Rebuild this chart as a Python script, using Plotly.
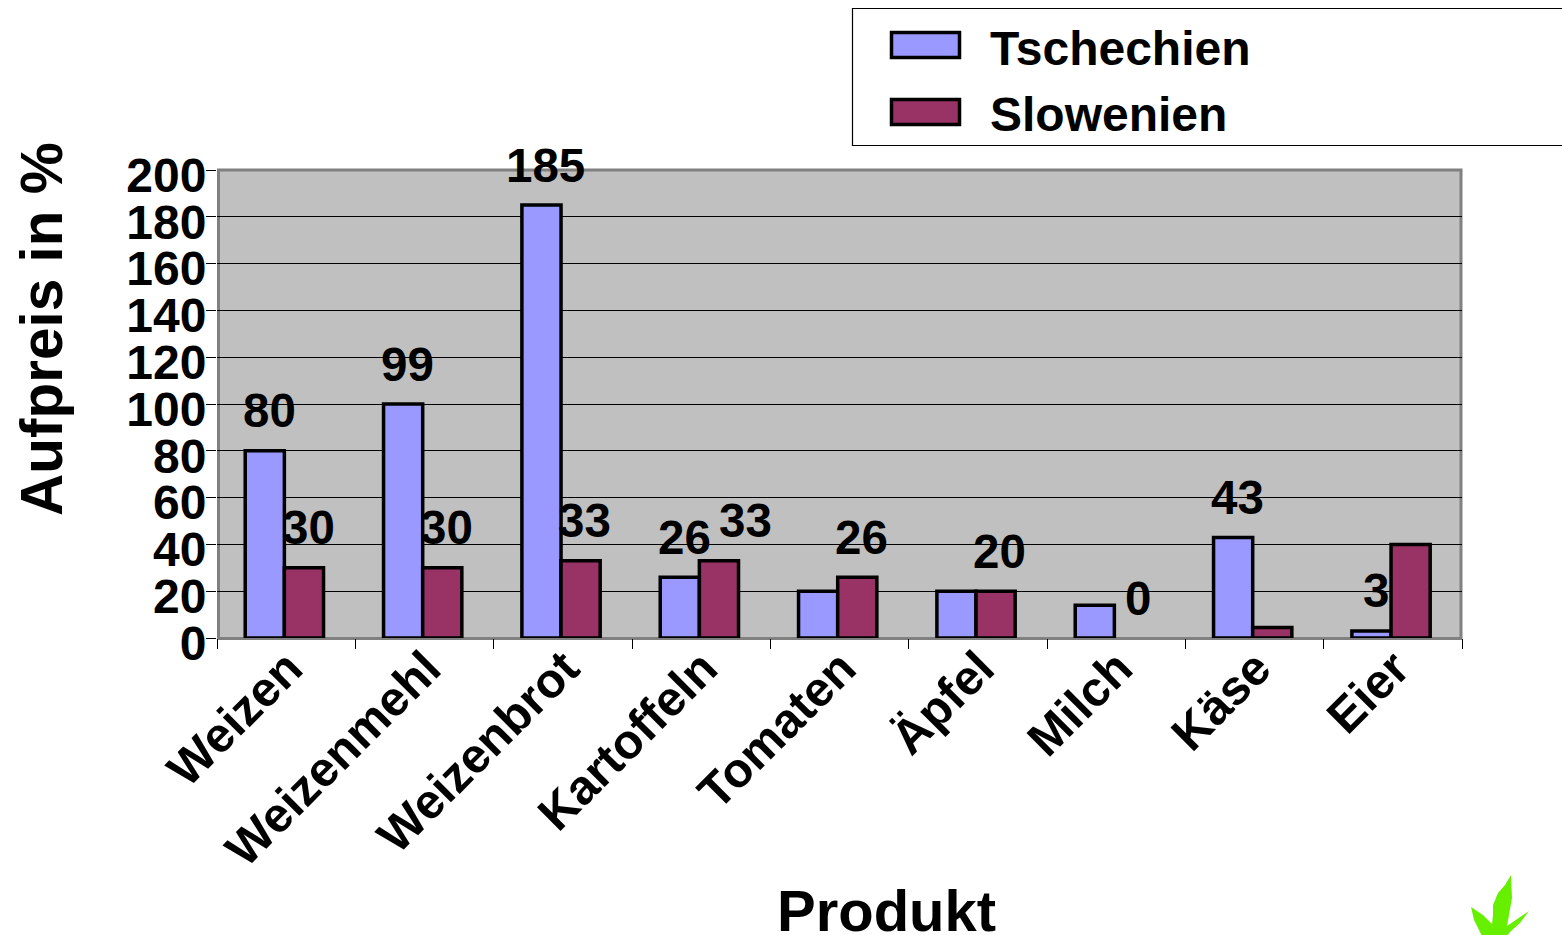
import plotly.graph_objects as go

categories = ["Weizen", "Weizenmehl", "Weizenbrot", "Kartoffeln", "Tomaten", "Äpfel", "Milch", "Käse", "Eier"]
tschechien = [80, 100, 185, 26, 20, 20, 14, 43, 3]
slowenien = [30, 30, 33, 33, 26, 20, 0, 4.5, 40]
tschechien_labels = ["80", "99", "185", "26", "", "", "", "43", "3"]
slowenien_labels = ["30", "30", "33", "33", "26", "20", "0", "", ""]
series_names = ["Tschechien", "Slowenien"]
y_ticks = list(range(0, 201, 20))
x_title = "Produkt"
y_title = "Aufpreis in %"

W, H = 1562, 935
L, R, T, B = 217, 1462, 170, 638
FONT = "Liberation Sans"
BLUE, PLUM = "#9999FF", "#993366"
BAR_W = 0.283


def px(x):
    return (x - L) / (R - L)


def py(y):
    return (B - y) / (B - T)


fig = go.Figure()
for name, vals, col, off in [(series_names[0], tschechien, BLUE, -BAR_W - 0.013),
                             (series_names[1], slowenien, PLUM, -0.013)]:
    fig.add_bar(x=categories, y=vals, name=name, width=BAR_W, offset=off,
                marker=dict(color=col, line=dict(color="black", width=[3.5 if v else 0 for v in vals])),
                showlegend=False, cliponaxis=False)

annotations = []
for name, vals, labels, shift in [(series_names[0], tschechien, tschechien_labels, -17),
                                  (series_names[1], slowenien, slowenien_labels, 22)]:
    for c, v, t in zip(categories, vals, labels):
        if t:
            nudge = 22 if (c, name) == ("Kartoffeln", "Slowenien") else 0
            annotations.append(dict(x=c, y=v, text=f"<b>{t}</b>", xshift=shift + nudge, yshift=40, yanchor="middle",
                                    showarrow=False, font=dict(family=FONT, size=47.5, color="black")))

# Axis titles
annotations.append(dict(xref="paper", yref="paper", x=px(886), y=py(910), xanchor="center", yanchor="middle",
                        text=f"<b>{x_title}</b>", showarrow=False, font=dict(family=FONT, size=58, color="black")))
annotations.append(dict(xref="paper", yref="paper", x=px(41), y=py(329), xanchor="center", yanchor="middle", textangle=-90,
                        text=f"<b>{y_title}</b>", showarrow=False, font=dict(family=FONT, size=58.5, color="black")))

# Plot frame, sitting just inside the plot area, underneath the bars
shapes = [dict(type="rect", xref="paper", yref="paper", x0=px(218.5), x1=px(1461), y0=py(638.5), y1=py(170),
               line=dict(color="#808080", width=3), fillcolor="rgba(0,0,0,0)", layer="below")]

# Legend box, swatches and text
shapes.append(dict(type="rect", xref="paper", yref="paper", x0=px(852.5), x1=px(1575), y0=py(8.5), y1=py(145.5),
                   line=dict(color="black", width=1.2), fillcolor="white", layer="above"))
for name, col, yc in [(series_names[0], BLUE, 45), (series_names[1], PLUM, 112)]:
    shapes.append(dict(type="rect", xref="paper", yref="paper", x0=px(891.5), x1=px(959.5), y0=py(yc + 12.5), y1=py(yc - 12.5),
                       line=dict(color="black", width=3.5), fillcolor=col, layer="above"))
    annotations.append(dict(xref="paper", yref="paper", x=px(988), y=py(yc + 3), xanchor="left", yanchor="middle",
                            text=f"<b>{name}</b>", showarrow=False, font=dict(family=FONT, size=48, color="black")))

# Small green leaf logo, bottom right
leaf = [(1511, 875), (1512, 898), (1509, 915), (1507, 926), (1529, 911), (1520, 923), (1510, 932), (1507, 936), (1482, 936),
        (1474, 920), (1471, 907), (1483, 915), (1492, 924), (1493, 915), (1493, 905), (1498, 893), (1505, 885)]
path = "M" + " L".join(f"{px(a):.5f},{py(b):.5f}" for a, b in leaf) + " Z"
shapes.append(dict(type="path", xref="paper", yref="paper", path=path, fillcolor="#66F000", line=dict(width=0), layer="above"))

fig.update_layout(
    width=W, height=H, autosize=False,
    margin=dict(l=L, r=W - R, t=T, b=H - B, pad=0),
    paper_bgcolor="white", plot_bgcolor="#C0C0C0",
    font=dict(family=FONT, size=47, color="black"),
    barmode="overlay",
    showlegend=False,
    annotations=annotations, shapes=shapes,
    xaxis=dict(type="category", categoryorder="array", categoryarray=categories, tickangle=-45, tickson="boundaries",
               automargin=False, ticks="outside", ticklen=10, tickwidth=1, tickcolor="black", showgrid=False,
               showline=False, zeroline=False,
               ticklabelstandoff=-9, ticklabelshift=2,
               tickfont=dict(family=FONT, size=48.5, weight="bold")),
    yaxis=dict(range=[0, 200], tickvals=y_ticks, automargin=False, ticks="outside", ticklen=10, tickwidth=1, tickcolor="black",
               showgrid=True, gridcolor="black", gridwidth=1, zeroline=False,
               showline=False,
               ticklabelstandoff=-10, ticklabelshift=5,
               tickfont=dict(family=FONT, size=48, weight="bold")),
)

fig.write_html("out.html", config=dict(displayModeBar=False),
               post_script="document.body.style.margin='0';document.body.style.overflow='hidden';")
